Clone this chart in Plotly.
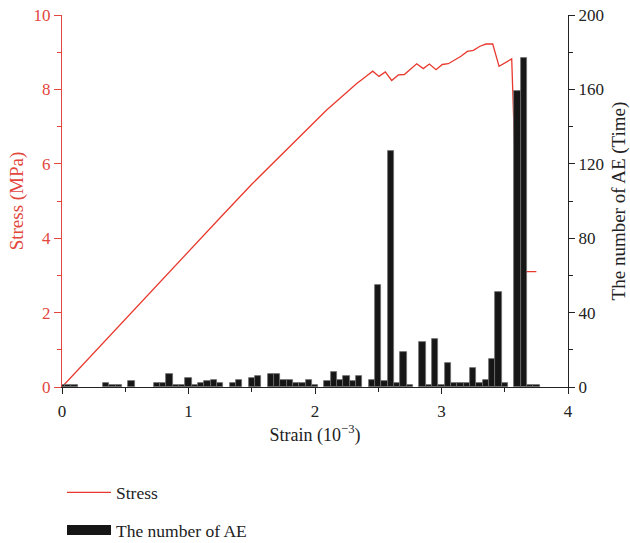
import plotly.graph_objects as go

# Stress-strain curve (strain in 10^-3, stress in MPa)
strain = [0.0, 0.5, 1.0, 1.25, 1.5, 1.8, 2.0, 2.09, 2.2, 2.33, 2.4, 2.456,
          2.506, 2.556, 2.606, 2.659, 2.706, 2.804, 2.856, 2.904, 2.957,
          3.006, 3.054, 3.154, 3.204, 3.252, 3.304, 3.352, 3.405, 3.455,
          3.555, 3.61, 3.75]
stress = [0.0, 1.83, 3.66, 4.55, 5.45, 6.46, 7.14, 7.44, 7.77, 8.16, 8.34, 8.49,
          8.35, 8.47, 8.24, 8.39, 8.40, 8.69, 8.56, 8.68, 8.53,
          8.67, 8.69, 8.89, 9.02, 9.05, 9.16, 9.22, 9.22, 8.62,
          8.82, 3.10, 3.10]

# Acoustic emission counts per strain bin
ae_strain = [0.0, 0.05, 0.1, 0.35, 0.4, 0.45, 0.55, 0.75, 0.8, 0.85, 0.9, 0.95,
             1.0, 1.05, 1.1, 1.15, 1.2, 1.25, 1.35, 1.4, 1.5, 1.55, 1.65, 1.7,
             1.75, 1.8, 1.85, 1.9, 1.95, 2.0, 2.1, 2.15, 2.2, 2.25, 2.3, 2.35,
             2.45, 2.5, 2.55, 2.6, 2.65, 2.7, 2.75, 2.85, 2.9, 2.95, 3.0, 3.05,
             3.1, 3.15, 3.2, 3.25, 3.3, 3.35, 3.4, 3.45, 3.5, 3.6, 3.65, 3.7, 3.75]
ae_count = [1, 1, 1, 2, 1, 1, 3, 2, 2, 7, 1, 1,
            5, 1, 2, 3, 4, 2, 2, 4, 5, 6, 7, 7,
            4, 4, 2, 2, 4, 1, 3, 8, 4, 6, 3, 6,
            4, 55, 3, 127, 2, 19, 1, 24, 1, 26, 1, 13,
            2, 2, 2, 10, 2, 4, 15, 51, 2, 159, 177, 1, 1]

RED = "#e8392e"
AXIS_RED = "#e2463c"
INK = "#222222"
FONT = "Liberation Serif"

fig = go.Figure()

fig.add_trace(go.Scatter(
    x=strain, y=stress, mode="lines", name="Stress",
    line=dict(color=RED, width=1.3), legendgroup="s",
))

fig.add_trace(go.Bar(
    x=ae_strain, y=ae_count, width=0.05, yaxis="y2", showlegend=False,
    marker=dict(color="#161616", line=dict(color="#6e6e6e", width=0.8)),
))

# legend key for the AE bars
fig.add_trace(go.Scatter(
    x=[None], y=[None], mode="lines", name="The number of AE", yaxis="y2",
    line=dict(color="#161616", width=17), legendgroup="ae",
))

fig.update_layout(
    width=630, height=543,
    margin=dict(l=62, r=62, t=15, b=156, autoexpand=False),
    paper_bgcolor="white", plot_bgcolor="white",
    font=dict(family=FONT, size=17, color=INK),
    bargap=0,
    legend=dict(
        x=0.0, y=-0.235, xanchor="left", yanchor="top",
        font=dict(size=17.5, color=INK), itemwidth=44,
        tracegroupgap=12, bgcolor="rgba(0,0,0,0)",
    ),
    xaxis=dict(
        range=[0, 4], tickvals=[0, 1, 2, 3, 4], automargin=False,
        ticks="outside", ticklen=6, tickwidth=1.2, tickcolor=INK,
        ticklabelstandoff=2,
        minor=dict(dtick=0.5, ticks="outside", ticklen=4, tickcolor=INK),
        showline=True, linecolor=INK, linewidth=1.2,
        showgrid=False, zeroline=False,
        title=dict(text="Strain (10<sup>−3</sup>)", font=dict(size=18), standoff=8),
    ),
    yaxis=dict(
        range=[0, 10], dtick=2, automargin=False,
        ticks="outside", ticklen=7, tickwidth=1.2, tickcolor=AXIS_RED,
        minor=dict(dtick=1, ticks="outside", ticklen=4, tickcolor=AXIS_RED),
        showline=True, linecolor=AXIS_RED, linewidth=1.2,
        tickfont=dict(color=AXIS_RED),
        showgrid=False, zeroline=False,
        title=dict(text="Stress (MPa)", font=dict(size=19, color=AXIS_RED), standoff=4),
    ),
    yaxis2=dict(
        range=[0, 200], dtick=40, overlaying="y", side="right", automargin=False,
        ticks="outside", ticklen=6, tickwidth=1.2, tickcolor=INK,
        minor=dict(dtick=20, ticks="outside", ticklen=4, tickcolor=INK),
        showline=True, linecolor=INK, linewidth=1.2,
        showgrid=False, zeroline=False,
        title=dict(text="The number of AE (Time)", font=dict(size=19), standoff=11),
    ),
)

fig.write_html("out.html")
